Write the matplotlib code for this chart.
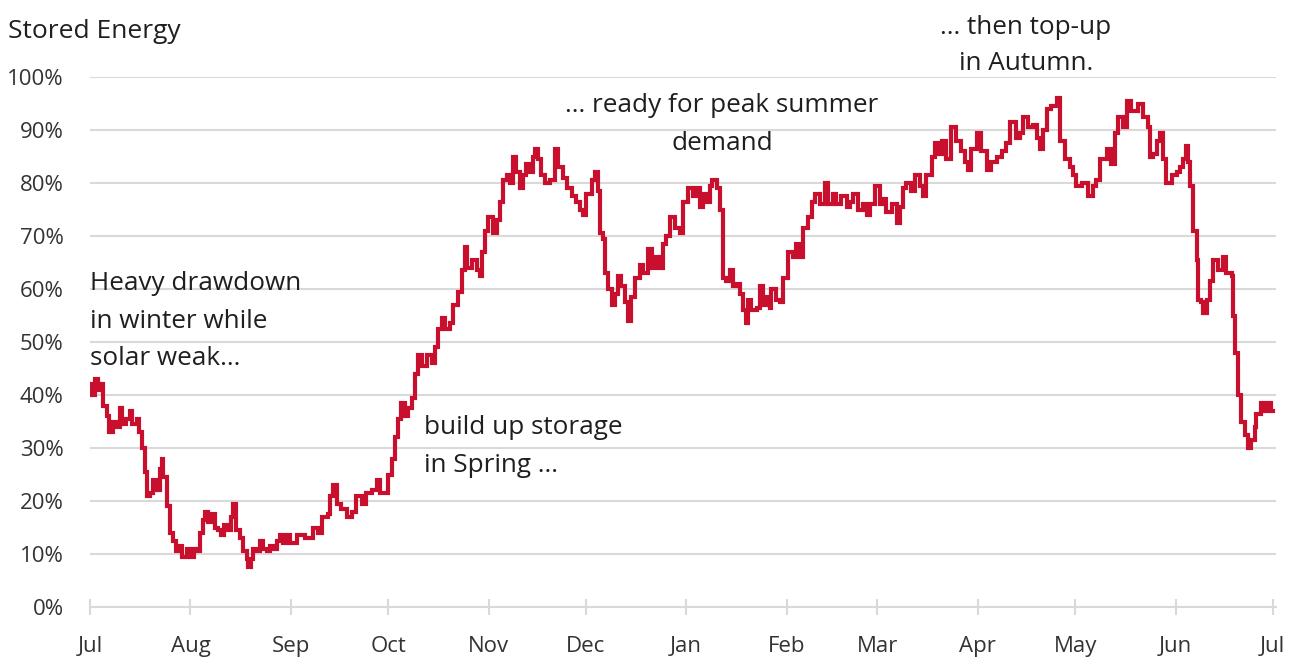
import matplotlib
matplotlib.use("Agg")
import matplotlib.pyplot as plt

# ---------------- data ----------------
days = [0, 0.5, 1.5, 2.5, 3.1, 4.1, 5.1, 6.0, 7.0, 8.0, 9.3, 10.0, 11.0, 12.3, 13.0, 14.4, 15.0, 15.9,
        17.0, 17.5, 18.5, 19.5, 20.6, 21.5, 22.1, 22.6, 23.9, 24.7, 25.7, 26.5, 27.8, 28.5, 29.8,
        31.0, 32.0, 33.0, 34.0, 35.0, 35.5, 36.5, 37.5, 38.5, 39.5, 40.5, 41.2, 42.2, 43.5, 44.2,
        45.2, 46.2, 47.3, 48.3, 48.9, 49.6, 50.4, 51.5, 52.5, 53.5, 54.5, 55.5, 56.6, 57.6, 58.6,
        59.6, 60.9, 61.7, 63.8, 66.3, 68.9, 70.5, 71.7, 73.5, 74.1, 75.1, 76.1, 77.6, 79.2, 80.7,
        82.2, 83.8, 85.3, 86.9, 88.5, 89.5, 91.0, 92.0, 93.1, 94.1, 95.1, 95.9, 97.2, 98.2, 99.3,
        100.3, 101.3, 102.4, 103.9, 105.5, 106.5, 107.5, 108.5, 109.6, 111.1, 112.1, 113.7, 114.7,
        115.7, 116.4, 117.8, 119.3, 120.3, 120.9, 121.9, 122.9, 124.4, 125.5, 126.5, 127.5, 128.6,
        129.6, 130.6, 131.6, 132.7, 133.7, 134.7, 135.7, 136.8, 137.3, 138.3, 139.3, 140.4, 141.9,
        143.5, 144.5, 146.0, 147.1, 148.6, 150.1, 151.2, 152.2, 153.2, 154.8, 155.9, 156.9, 157.4,
        158.4, 158.9, 160.0, 161.0, 162.0, 163.0, 164.0, 165.1, 166.1, 167.1, 168.2, 169.7, 170.7,
        172.3, 173.3, 174.8, 175.9, 176.9, 177.9, 179.0, 180.5, 182.1, 183.1, 184.6, 186.2, 187.2,
        188.2, 189.2, 190.3, 191.3, 192.1, 193.4, 194.4, 195.4, 196.4, 197.5, 198.5, 199.5, 200.5,
        201.6, 202.4, 203.1, 204.1, 205.7, 206.7, 207.7, 208.8, 209.8, 210.3, 211.8, 212.9, 213.9,
        215.5, 217.0, 218.0, 219.1, 220.1, 221.7, 222.7, 223.7, 225.2, 226.8, 227.8, 229.3, 230.3,
        231.9, 233.5, 234.5, 235.5, 237.1, 238.6, 239.7, 240.7, 242.2, 243.8, 244.8, 245.8, 247.4,
        248.9, 249.9, 250.9, 251.9, 253.5, 254.6, 256.1, 257.1, 258.1, 259.7, 260.7, 261.7, 262.8,
        264.3, 265.8, 267.4, 268.9, 270.0, 271.0, 272.0, 273.6, 275.1, 276.7, 278.2, 279.8, 281.3,
        282.8, 283.9, 284.9, 285.9, 287.0, 288.0, 289.5, 291.1, 292.1, 293.1, 294.1, 295.2, 296.7,
        298.3, 299.3, 300.8, 302.4, 303.4, 304.4, 306.0, 308.1, 309.6, 310.6, 311.6, 313.7, 315.2,
        316.2, 317.3, 318.9, 319.9, 321.4, 323.4, 325.0, 326.6, 327.1, 328.1, 329.2, 330.2, 331.2,
        332.2, 333.8, 335.3, 336.3, 337.3, 338.2, 338.9, 339.4, 340.5, 341.5, 342.0, 343.0, 343.6,
        344.6, 345.6, 346.6, 348.1, 349.7, 350.7, 352.3, 352.8, 353.3, 354.3, 355.3, 356.4, 357.4,
        358.4, 359.4, 359.9, 361.5, 362.5, 363.6, 364.6, 365.0]

stored_pct = [42, 40, 43, 41, 42, 38, 36, 33, 35, 34, 37.5, 34.5, 35.5, 37, 34.5, 35.5, 33, 30,
              25.5, 21, 21.5, 24, 22, 26, 28, 24.5, 19, 14, 12.5, 10.5, 11.5, 9.5, 11,
              9.5, 11, 10.5, 14, 16.5, 18, 16, 17.5, 15, 14.5, 13.5, 15.5, 14.5, 17, 19.5,
              14.5, 13, 10.5, 9, 7.5, 9, 11, 10.5, 12.5, 11, 10.5, 11.5, 11, 12.5, 13.5,
              12, 13.5, 12, 13.5, 13, 15, 14, 17, 17.5, 21, 23, 19.5, 18.5, 17, 18,
              21, 19.5, 21.5, 22, 24, 21.5, 21.5, 25, 28, 32, 35.5, 38.5, 36, 37.5, 39.5,
              44, 47.5, 45.5, 47.5, 46, 49, 52.5, 54.5, 52.5, 53.5, 57, 59.5, 63.5,
              68, 64, 65.5, 63.5, 62.5, 67, 71, 73.5, 70.5, 73, 76.5, 80.5, 81.5,
              80, 85, 82, 79, 81.5, 83.5, 82, 85, 86.5, 84.5, 81.5, 80, 80.5,
              86.5, 83, 81, 79, 77.5, 76.5, 75, 74, 78, 80.5, 82, 78.5, 70.5,
              69.5, 63, 60, 57, 59, 62.5, 60.5, 57.5, 54, 58.5, 62, 64.5, 63,
              67.5, 64, 66, 64, 68.5, 70, 73.5, 71.5, 70.5, 76.5, 79, 77.5, 79,
              75.5, 78, 76.5, 79.5, 80.5, 79, 75, 62, 61.5, 63.5, 60.5, 61, 59,
              56, 53.5, 58, 56, 56.5, 60.5, 57, 58.5, 56.5, 60, 58, 57.5, 62,
              67, 66, 68.5, 66, 71.5, 73.5, 76.5, 78, 76, 80, 76, 78, 76,
              77.5, 75.5, 76.5, 78, 75, 76, 74, 76, 79.5, 76, 77, 74.5, 76,
              72.5, 75.5, 79, 80, 78.5, 81.5, 79.5, 77.5, 81.5, 85, 87.5, 85.5, 88,
              84.5, 90.5, 88, 86, 84, 82.5, 86.5, 89.5, 86, 82.5, 84, 85, 86,
              87.5, 91.5, 91.5, 88.5, 89.5, 92.5, 90.5, 91, 88.5, 86.5, 90, 94, 94.5,
              96, 88, 84.5, 83, 81.5, 79.5, 80, 77.5, 79.5, 80.5, 84.5, 86.5, 83.5,
              89.5, 92.5, 90.5, 95.5, 93.5, 95, 92.5, 90.5, 85, 85.5, 88, 89.5, 84.5,
              80, 81.5, 82, 83, 84.5, 87, 84, 79.5, 71, 65.5, 58, 57.5, 55.5,
              58, 61.5, 65.5, 63.5, 66, 63, 62.5, 55, 48, 40, 35, 32.5, 30,
              31.5, 34, 36.5, 38.5, 37, 38.5, 37, 37]

month_labels = ["Jul", "Aug", "Sep", "Oct", "Nov", "Dec", "Jan",
                "Feb", "Mar", "Apr", "May", "Jun", "Jul"]
month_days = [0, 31, 62, 92, 123, 153, 184, 215, 243, 274, 304, 335, 365]
y_ticks = [0, 10, 20, 30, 40, 50, 60, 70, 80, 90, 100]
y_tick_labels = [f"{v}%" for v in y_ticks]

# ---------------- style ----------------
FONT = ["Open Sans", "DejaVu Sans"]
plt.rcParams["font.family"] = FONT
TEXT = "#1f1f1f"
TICKTXT = "#333333"
GRID = "#d9d9d9"
RED = "#C8102E"

W, H = 1298, 659
fig = plt.figure(figsize=(W / 100, H / 100), dpi=100)
ax = fig.add_axes([90 / W, 1 - 607 / H, (1276 - 90) / W, (607 - 77) / H])

ax.plot(days, stored_pct, color=RED, lw=3.0, drawstyle="steps-post",
        solid_joinstyle="miter", zorder=3)

ax.set_xlim(0, 366)
ax.set_ylim(0, 100)

ax.set_yticks(y_ticks)
ax.set_yticklabels(y_tick_labels)
ax.set_xticks(month_days)
ax.set_xticklabels(month_labels)

ax.yaxis.grid(True, color=GRID, lw=1.5)
ax.set_axisbelow(True)
for s in ["top", "right", "left"]:
    ax.spines[s].set_visible(False)
ax.spines["bottom"].set_color(GRID)
ax.spines["bottom"].set_linewidth(1.5)

ax.tick_params(axis="y", length=0, pad=19, labelsize=16, labelcolor=TICKTXT)
ax.tick_params(axis="x", direction="inout", length=12, width=1.5, color=GRID,
               pad=15, labelsize=16, labelcolor=TICKTXT)

# ---------------- text ----------------
fig.text(8 / W, 1 - 32 / H, "Stored Energy", fontsize=19, color=TEXT,
         ha="left", va="center")

def put(lines, x, y_first, ha, step=38, size=18.8):
    for i, line in enumerate(lines):
        fig.text(x / W, 1 - (y_first + i * step) / H, line, fontsize=size,
                 color=TEXT, ha=ha, va="center")

put(["Heavy drawdown", "in winter while", "solar weak..."], 90, 283, "left")
put(["build up storage", "in Spring ..."], 424, 428, "left")
put(["... ready for peak summer", "demand"], 722, 106, "center")
put(["... then top-up", "in Autumn."], 1026, 27, "center", step=37)

fig.savefig("out.png", dpi=100, facecolor="white")
